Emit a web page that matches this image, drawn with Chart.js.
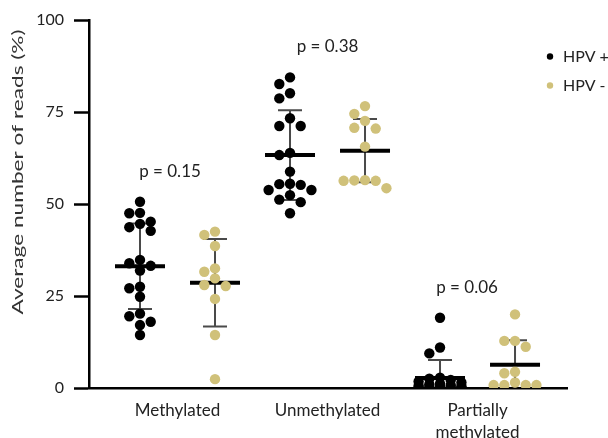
<!DOCTYPE html>
<html>
<head>
<meta charset="utf-8">
<script src="https://cdn.jsdelivr.net/npm/chart.js@4"></script>
<style>
  html, body { margin: 0; background: #fff; }
  #wrap { width: 608px; height: 438px; }
</style>
</head>
<body>
<div id="wrap"><canvas id="chart" width="608" height="438"></canvas></div>
<script>
// groups along the x axis
const categories = ['Methylated', 'Unmethylated', ['Partially', 'methylated']];
const seriesNames = ['HPV +', 'HPV -'];

// individual values (%)
const methylatedPos = [50.6, 47.5, 47.6, 45.2, 44.6, 43.7, 42.7, 34.8, 33.9, 33.2, 31.9, 27.5, 27.1, 24.8, 20.2, 19.5, 18.0, 17.1, 14.4];
const methylatedNeg = [42.5, 41.6, 38.6, 32.5, 31.6, 29.8, 28.0, 27.7, 24.2, 14.4, 2.4];
const unmethylatedPos = [84.4, 82.6, 80.1, 78.7, 73.3, 71.2, 71.2, 63.9, 63.3, 58.8, 55.5, 55.4, 55.2, 53.8, 53.8, 52.4, 51.2, 50.5, 47.5];
const unmethylatedNeg = [76.6, 74.5, 72.6, 70.7, 70.5, 65.6, 56.5, 56.4, 56.3, 56.3, 54.3];
const partialPos = [19.1, 11.0, 9.4, 2.8, 2.5, 2.2, 1.8, 1.5, 1.2, 1.0, 0.8, 0.6, 0.5, 0.4, 0.3, 0.2, 0.1, 0, 0];
const partialNeg = [20.0, 12.8, 12.8, 11.2, 4.4, 4.0, 1.5, 0.8, 0.8, 0.8, 0.8];

// mean and SD drawn as bars
const meanPos = [33.1, 63.3, 2.7];
const sdPos = [11.6, 12.2, 4.9];
const meanNeg = [28.6, 64.5, 6.3];
const sdNeg = [11.9, 8.6, 6.7];

const pValues = ['p = 0.15', 'p = 0.38', 'p = 0.06'];
const yTicks = [0, 25, 50, 75, 100];

const tan = 'rgb(208,193,122)';
const txt = '#222';

// p label anchors in data units (x, y)
const pAnchors = [[1.4, 58.7], [3.5, 92.7], [5.36, 27.2]];

// simple beeswarm so dots sit side by side like Prism does
const PX_X = 75, PX_Y = 3.68, DOT = 10.7;
function swarm(values, center) {
  const placed = [];
  values.slice().sort((a, b) => b - a).forEach(v => {
    let best = 0, bestGap = -1;
    for (const k of [0, -1, 1, -2, 2]) {
      const gap = Math.min(Infinity, ...placed.map(p => Math.hypot((p.k - k) * DOT, (p.v - v) * PX_Y)));
      if (gap >= 9) { best = k; break; }
      if (gap > bestGap) { bestGap = gap; best = k; }
    }
    placed.push({ k: best, v });
  });
  return placed.map(p => ({ x: center + p.k * DOT / PX_X, y: p.v }));
}

const posGroups = [methylatedPos, unmethylatedPos, partialPos];
const negGroups = [methylatedNeg, unmethylatedNeg, partialNeg];
const posData = posGroups.flatMap((vals, g) => swarm(vals, 2 * g + 1));
const negData = negGroups.flatMap((vals, g) => swarm(vals, 2 * g + 2));

const errorBars = {
  id: 'errorBars',
  beforeDatasetsDraw(chart) {
    const { ctx, chartArea: a, scales: { x, y } } = chart;
    ctx.save();
    ctx.beginPath();
    ctx.rect(a.left, a.top, a.right - a.left, a.bottom - a.top);
    ctx.clip();
    [[meanPos, sdPos], [meanNeg, sdNeg]].forEach(([means, sds], s) => {
      means.forEach((m, g) => {
        const cx = x.getPixelForValue(2 * g + 1 + s);
        const yt = y.getPixelForValue(m + sds[g]);
        const yb = y.getPixelForValue(m - sds[g]);
        const ym = y.getPixelForValue(m);
        ctx.strokeStyle = '#4a4a4a';
        ctx.lineWidth = 2;
        ctx.beginPath();
        ctx.moveTo(cx, yt); ctx.lineTo(cx, yb);
        ctx.moveTo(cx - 12, yt); ctx.lineTo(cx + 12, yt);
        ctx.moveTo(cx - 12, yb); ctx.lineTo(cx + 12, yb);
        ctx.stroke();
        ctx.strokeStyle = '#000';
        ctx.lineWidth = 4;
        ctx.beginPath();
        ctx.moveTo(cx - 25, ym); ctx.lineTo(cx + 25, ym);
        ctx.stroke();
      });
    });
    ctx.restore();
  },
  afterDraw(chart) {
    const { ctx, scales: { x, y } } = chart;
    ctx.save();
    ctx.fillStyle = txt;
    ctx.font = '17px Lato';
    ctx.textAlign = 'center';
    ctx.textBaseline = 'middle';
    pValues.forEach((t, i) => {
      ctx.fillText(t, x.getPixelForValue(pAnchors[i][0]), y.getPixelForValue(pAnchors[i][1]));
    });

    // legend
    ctx.font = '16px Lato';
    [['#000', 56.5], [tan, 85.5]].forEach(([c, ly], i) => {
      ctx.fillStyle = c;
      ctx.beginPath();
      ctx.arc(550, ly, 3.2, 0, Math.PI * 2);
      ctx.fill();
      ctx.fillStyle = txt;
      ctx.textAlign = 'left';
      ctx.fillText(seriesNames[i], 563, ly);
    });

    // y axis title
    const title = 'Average number of reads (%)';
    ctx.translate(18, 172);
    ctx.rotate(-Math.PI / 2);
    ctx.font = '16px Lato';
    const w = ctx.measureText(title).width;
    ctx.scale(285 / w, 1);
    ctx.textAlign = 'center';
    ctx.fillStyle = '#333';
    ctx.fillText(title, 0, 0);
    ctx.restore();
  }
};

new Chart(document.getElementById('chart'), {
  type: 'scatter',
  data: {
    datasets: [
      { label: seriesNames[0], data: posData, backgroundColor: '#000', borderWidth: 0, pointRadius: 5.2, pointHoverRadius: 5.2 },
      { label: seriesNames[1], data: negData, backgroundColor: tan, borderWidth: 0, pointRadius: 5.2, pointHoverRadius: 5.2 }
    ]
  },
  options: {
    responsive: false,
    animation: false,
    devicePixelRatio: 1,
    layout: { padding: { top: 20, right: 41, bottom: 0, left: 0 } },
    plugins: { legend: { display: false }, tooltip: { enabled: false } },
    scales: {
      x: {
        type: 'linear',
        min: 0.32,
        max: 6.693,
        afterFit: s => { s.height = 50; },
        afterBuildTicks: s => { s.ticks = [1.5, 3.5, 5.5].map(v => ({ value: v })); },
        grid: { display: false },
        border: { display: true, color: '#000', width: 2.5 },
        ticks: {
          autoSkip: false, maxRotation: 0, minRotation: 0, padding: 3,
          color: txt, font: { family: 'Lato', size: 17, lineHeight: 1.3 },
          callback: (v, i) => categories[i]
        }
      },
      y: {
        min: 0,
        max: 100,
        afterFit: s => { s.width = 89; },
        afterBuildTicks: s => { s.ticks = yTicks.map(v => ({ value: v })); },
        grid: { display: true, drawOnChartArea: false, drawTicks: true, tickLength: 15, tickWidth: 2.5, tickColor: '#000' },
        border: { display: true, color: '#000', width: 2.5 },
        ticks: { padding: 10, color: txt, font: { family: 'Lato', size: 16 } }
      }
    }
  },
  plugins: [errorBars]
});
</script>
</body>
</html>
